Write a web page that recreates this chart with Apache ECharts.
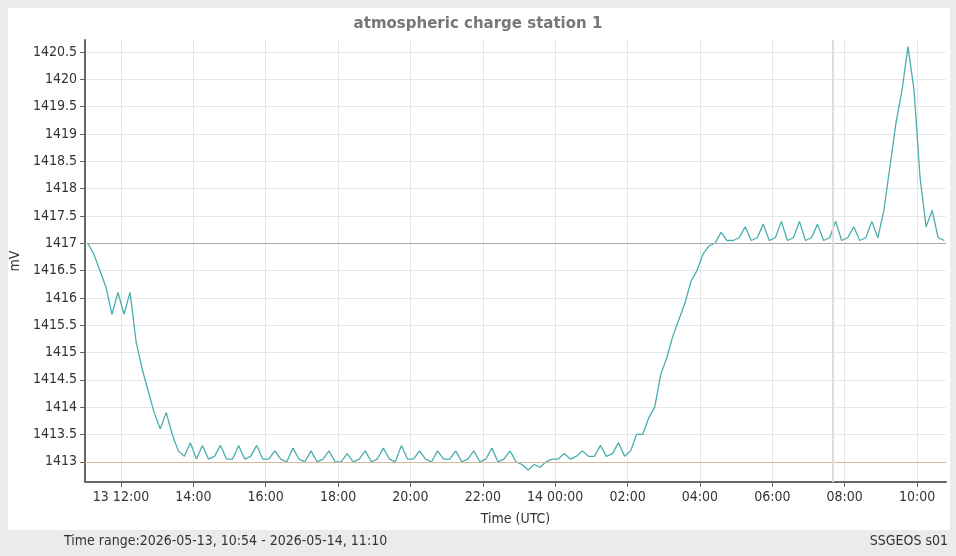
<!DOCTYPE html>
<html><head><meta charset="utf-8">
<script src="https://cdn.jsdelivr.net/npm/echarts@6/dist/echarts.min.js"></script>
<style>html,body{margin:0;padding:0;background:#ebebeb}#c{width:956px;height:556px}</style>
</head><body><div id="c"></div>
<script>
// hours since 2026-05-13 00:00 UTC; first sample 11:05, 10-minute spacing
const startHour = 11 + 5/60;
const stepHour = 10/60;
const values = [
1417.0,1416.8,1416.5,1416.2,1415.7,1416.1,
1415.7,1416.1,1415.2,1414.7,1414.3,1413.9,
1413.6,1413.9,1413.5,1413.2,1413.1,1413.35,
1413.05,1413.3,1413.05,1413.1,1413.3,1413.05,
1413.05,1413.3,1413.05,1413.1,1413.3,1413.05,
1413.05,1413.2,1413.05,1413.0,1413.25,1413.05,
1413.0,1413.2,1413.0,1413.05,1413.2,1413.0,
1413.0,1413.15,1413.0,1413.05,1413.2,1413.0,
1413.05,1413.25,1413.05,1413.0,1413.3,1413.05,
1413.05,1413.2,1413.05,1413.0,1413.2,1413.05,
1413.05,1413.2,1413.0,1413.05,1413.2,1413.0,
1413.05,1413.25,1413.0,1413.05,1413.2,1413.0,
1412.95,1412.85,1412.95,1412.9,1413.0,1413.05,
1413.05,1413.15,1413.05,1413.1,1413.2,1413.1,
1413.1,1413.3,1413.1,1413.15,1413.35,1413.1,
1413.2,1413.5,1413.5,1413.8,1414.0,1414.6,
1414.9,1415.3,1415.6,1415.9,1416.3,1416.5,
1416.8,1416.95,1417.0,1417.2,1417.05,1417.05,
1417.1,1417.3,1417.05,1417.1,1417.35,1417.05,
1417.1,1417.4,1417.05,1417.1,1417.4,1417.05,
1417.1,1417.35,1417.05,1417.1,1417.4,1417.05,
1417.1,1417.3,1417.05,1417.1,1417.4,1417.1,
1417.6,1418.4,1419.2,1419.8,1420.6,1419.8,
1418.2,1417.3,1417.6,1417.1,1417.05
];
const xTicks = [12,14,16,18,20,22,24,26,28,30,32,34];
const yTicks = [1413,1413.5,1414,1414.5,1415,1415.5,1416,1416.5,1417,1417.5,1418,1418.5,1419,1419.5,1420,1420.5];
const refLines = [1417, 1413];
const data = values.map((v,i)=>[startHour + i*stepHour, v]);
const pad = n => String(n).padStart(2,'0');
const chart = echarts.init(document.getElementById('c'));
chart.setOption({
  animation:false,
  backgroundColor:'#ebebeb',
  graphic:[
    {type:'rect',shape:{x:8,y:8,width:942,height:522},style:{fill:'#fff'},z:-10},
    {type:'text',left:64,top:534,style:{text:'Time range:2026-05-13, 10:54 - 2026-05-14, 11:10',font:'14px "DejaVu Sans Condensed", "DejaVu Sans"',fill:'#333'}},
    {type:'text',right:8,top:534,style:{text:'SSGEOS s01',font:'14px "DejaVu Sans Condensed", "DejaVu Sans"',fill:'#333'}}
  ],
  title:{text:'atmospheric charge station 1',left:'center',top:12,textStyle:{fontFamily:'DejaVu Sans',fontWeight:'bold',fontSize:15,color:'#777'}},
  grid:{left:85,right:10,top:40,bottom:74,outerBoundsMode:'none'},
  xAxis:{type:'value',min:11.005,max:34.8,name:'Time (UTC)',nameLocation:'middle',nameGap:30,
    nameTextStyle:{fontFamily:'DejaVu Sans Condensed',fontSize:14,color:'#333'},
    axisLine:{lineStyle:{color:'#666',width:2}},
    axisTick:{customValues:xTicks,length:5,lineStyle:{color:'#666'}},
    axisLabel:{customValues:xTicks,fontFamily:'DejaVu Sans Condensed',fontSize:14,color:'#333',
      formatter:v=>{const h=Math.round(v)%24;const s=pad(h)+':00';return v===12?'13 '+s:(v===24?'14 '+s:s);}},
    splitLine:{show:true,lineStyle:{color:'#e6e6e6'}}},
  yAxis:{type:'value',min:1412.63,max:1420.72,name:'mV',nameLocation:'middle',nameGap:58,
    nameTextStyle:{fontFamily:'DejaVu Sans Condensed',fontSize:14,color:'#333'},
    axisLine:{show:true,lineStyle:{color:'#666',width:2}},
    axisTick:{show:true,customValues:yTicks,length:5,lineStyle:{color:'#666'}},
    axisLabel:{customValues:yTicks,fontFamily:'DejaVu Sans Condensed',fontSize:14,color:'#333',formatter:v=>String(v)},
    splitLine:{show:true,lineStyle:{color:'#e6e6e6'}}},
  series:[{type:'line',data:data,showSymbol:false,lineStyle:{color:'#4aaeae',width:1.3},
    markLine:{silent:true,symbol:'none',label:{show:false},
      data:[{yAxis:refLines[0],lineStyle:{color:'#aaa',type:'solid',width:1}},
            {yAxis:refLines[1],lineStyle:{color:'#d8b99a',type:'solid',width:1}},
            {xAxis:31.68,lineStyle:{color:'#ddd',type:'solid',width:2}}]}}]
});
</script></body></html>
